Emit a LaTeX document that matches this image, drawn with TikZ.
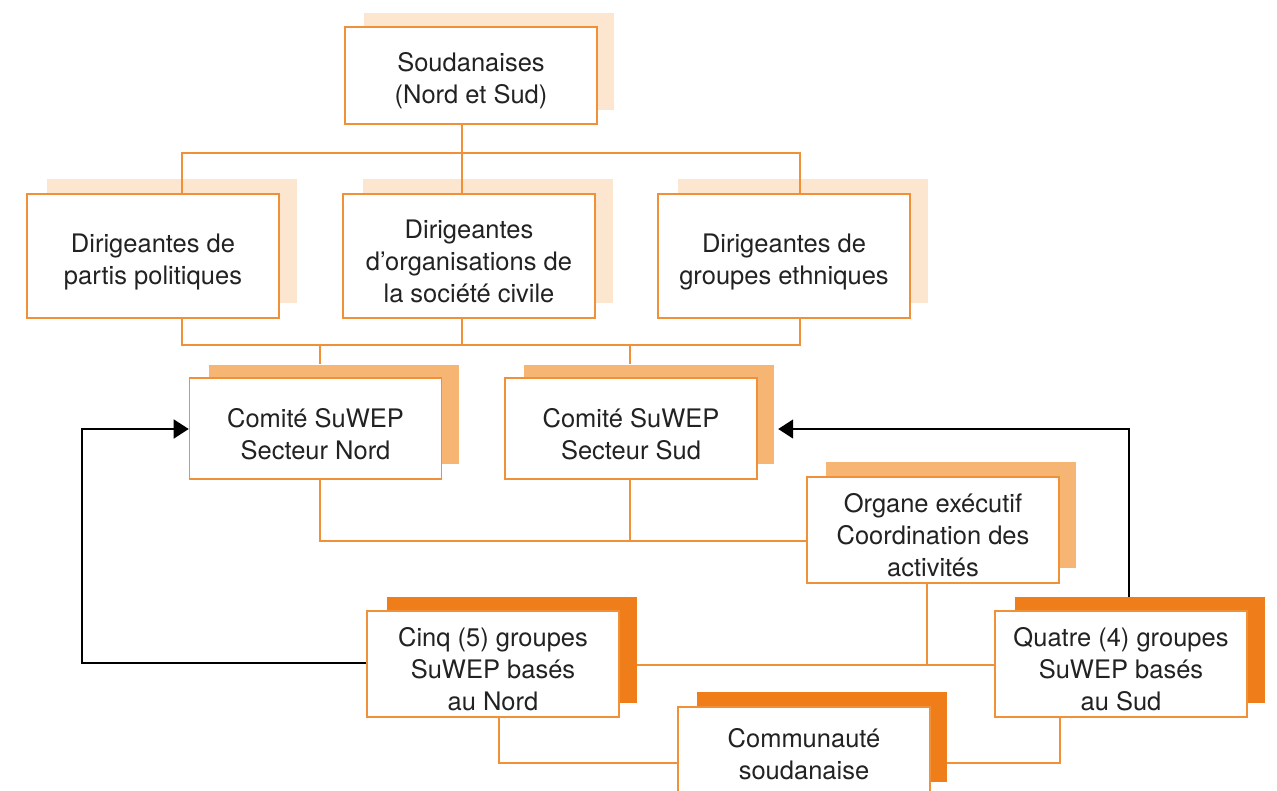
\documentclass[tikz,border=0pt]{standalone}
\usepackage{fontspec}
\setmainfont{TeX Gyre Heros}
\usetikzlibrary{arrows.meta}
\definecolor{orB}{HTML}{F0913A}
\definecolor{shL}{HTML}{FDE6CF}
\definecolor{shM}{HTML}{F7B574}
\definecolor{shD}{HTML}{EE7D1A}
\definecolor{txt}{HTML}{222222}
\newcommand\mytopstrut{\rule{0pt}{30pt}}
\begin{document}
\begin{tikzpicture}[x=1pt,y=-1pt,
  box/.style={draw=orB, line width=1.6pt, fill=white, minimum width=252pt, inner sep=0pt, align=center, text=txt, font=\fontsize{25.5}{32}\selectfont},
  shad/.style={fill=#1, minimum width=250pt, inner sep=0pt, draw=none},
  conn/.style={draw=orB, line width=1.6pt},
  arr/.style={draw=black, line width=1.6pt, -{Triangle[length=15pt,width=19pt]}}
]
\useasboundingbox (0,0) rectangle (1277,790);
\clip (0,0) rectangle (1277,790);
\fill[white] (0,0) rectangle (1277,790);

% shadows
\node[shad=shL, minimum height=97pt] (sud0S) at (489,61.5) {};
\node[shad=shL, minimum height=124pt] (dppS) at (172,241) {};
\node[shad=shL, minimum height=124pt] (docS) at (488,241) {};
\node[shad=shL, minimum height=124pt] (dgeS) at (803,241) {};
\node[shad=shM, minimum height=99pt] (cnS) at (334,414) {};
\node[shad=shM, minimum height=99pt] (csS) at (649,414) {};
\node[shad=shM, minimum height=106pt] (orgS) at (951,515) {};
\node[shad=shD, minimum height=106pt] (cinqS) at (512,650) {};
\node[shad=shD, minimum height=106pt] (quatreS) at (1140,650) {};
\node[shad=shD, minimum height=90pt] (commS) at (822,737) {};

% boxes
\node[box, minimum height=97pt] (sud0) at (471,75.5) {\mytopstrut Soudanaises\\(Nord et Sud)};
\node[box, minimum height=124pt] (dpp) at (153,256) {\mytopstrut Dirigeantes de\\partis politiques};
\node[box, minimum height=124pt] (doc) at (469,256) {\mytopstrut Dirigeantes\\d’organisations de\\la société civile};
\node[box, minimum height=124pt] (dge) at (784,256) {\mytopstrut Dirigeantes de\\groupes ethniques};
\node[box, minimum height=101pt] (cn) at (315.5,428.5) {\mytopstrut Comité SuWEP\\Secteur Nord};
\node[box, minimum height=101pt] (cs) at (631,428.5) {\mytopstrut Comité SuWEP\\Secteur Sud};
\node[box, minimum height=106pt] (org) at (933,530) {\mytopstrut Organe exécutif\\Coordination des\\activités};
\node[box, minimum height=106pt] (cinq) at (493,664) {\mytopstrut Cinq (5) groupes\\SuWEP basés\\au Nord};
\node[box, minimum height=106pt] (quatre) at (1121,664) {\mytopstrut Quatre (4) groupes\\SuWEP basés\\au Sud};
\node[box, minimum height=94pt] (comm) at (804,754) {Communauté\\soudanaise};

% bus coordinates
\coordinate (t1) at (182,153);
\coordinate (t2) at (800,153);
\coordinate (t3) at (462,153);
\coordinate (u1) at (182,345);
\coordinate (u2) at (800,345);
\coordinate (u3) at (462,345);
\coordinate (u4) at (320,345);
\coordinate (u5) at (630,345);
\coordinate (v1) at (320,541);
\coordinate (v2) at (630,541);
\coordinate (w1) at (927,665);
\coordinate (z1) at (499,763);
\coordinate (z2) at (1060,763);
\coordinate (a1) at (82,663);
\coordinate (a2) at (82,429);
\coordinate (a3) at (1129,429);

\draw[conn] (t1 |- dpp.north) -- (t1) -- (t2) -- (t2 |- dge.north);
\draw[conn] (t3 |- sud0.south) -- (t3) -- (t3 |- doc.north);
\draw[conn] (u1 |- dpp.south) -- (u1) -- (u2) -- (u2 |- dge.south);
\draw[conn] (u3 |- doc.south) -- (u3);
\draw[conn] (u4) -- (u4 |- cnS.north);
\draw[conn] (u5) -- (u5 |- csS.north);
\draw[conn] (v1 |- cn.south) -- (v1) -- (v1 -| org.west);
\draw[conn] (v2 |- cs.south) -- (v2);
\draw[conn] (w1 |- org.south) -- (w1);
\draw[conn] (w1 -| cinqS.east) -- (w1 -| quatre.west);
\draw[conn] (z1 |- cinq.south) -- (z1) -- (z1 -| comm.west);
\draw[conn] (z2 -| commS.east) -- (z2) -- (z2 |- quatre.south);
\draw[arr] (a1 -| cinq.west) -- (a1) -- (a2) -- (a2 -| cn.west);
\draw[arr] (a3 |- quatreS.north) -- (a3) -- ([xshift=4pt]a3 -| csS.east);
\end{tikzpicture}
\end{document}
